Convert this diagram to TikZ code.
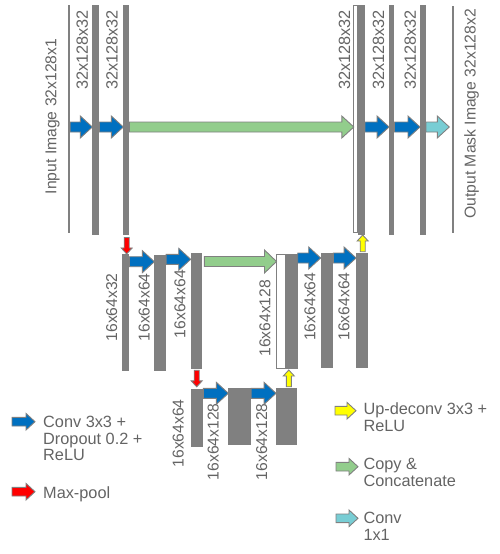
\documentclass[tikz,border=0pt]{standalone}
\usepackage{fontspec}
\setmainfont{Liberation Sans}
\usetikzlibrary{calc}
\definecolor{bargray}{RGB}{128,128,128}
\definecolor{txtgray}{RGB}{100,100,100}
\definecolor{convblue}{RGB}{0,112,192}
\definecolor{copygreen}{RGB}{146,205,140}
\definecolor{poolred}{RGB}{255,0,0}
\definecolor{upyellow}{RGB}{255,255,0}
\definecolor{onecyan}{RGB}{120,205,212}
\tikzset{
  bar/.style={rectangle, fill=bargray, draw=none, inner sep=0pt, outer sep=0pt},
  catbox/.style={rectangle, fill=white, draw=bargray, line width=1pt, inner sep=0pt, outer sep=0pt},
  thinline/.style={rectangle, fill=bargray, draw=none, inner sep=0pt, outer sep=0pt, minimum width=1.8pt},
  dimlbl/.style={rotate=90, inner sep=0pt, text=txtgray, font=\fontsize{15.7}{16}\selectfont},
  toplbl/.style={dimlbl, font=\fontsize{16.3}{17}\selectfont},
  legtxt/.style={anchor=base west, align=left, inner sep=0pt, text=txtgray, font=\fontsize{16.3}{16.6}\selectfont},
  blockarrow/.style={draw=bargray, line width=0.9pt, line join=miter},
}
% horizontal block arrow: fill, start, end, body half, head half, head length
\newcommand\hblock[6]{%
  \path[blockarrow, fill=#1] let \p1=#2, \p2=#3 in
    (\x1,\y1+#4) -- (\x2-#6,\y1+#4) -- (\x2-#6,\y1+#5) -- (\x2,\y1)
    -- (\x2-#6,\y1-#5) -- (\x2-#6,\y1-#4) -- (\x1,\y1-#4) -- cycle;}
% downward block arrow
\newcommand\dblock[6]{%
  \path[blockarrow, fill=#1] let \p1=#2, \p2=#3 in
    (\x1-#4,\y1) -- (\x1-#4,\y2+#6) -- (\x1-#5,\y2+#6) -- (\x1,\y2)
    -- (\x1+#5,\y2+#6) -- (\x1+#4,\y2+#6) -- (\x1+#4,\y1) -- cycle;}
% upward block arrow
\newcommand\ublock[6]{%
  \path[blockarrow, fill=#1] let \p1=#2, \p2=#3 in
    (\x1-#4,\y1) -- (\x1-#4,\y2-#6) -- (\x1-#5,\y2-#6) -- (\x1,\y2)
    -- (\x1+#5,\y2-#6) -- (\x1+#4,\y2-#6) -- (\x1+#4,\y1) -- cycle;}
\begin{document}
\begin{tikzpicture}[x=1pt, y=-1pt]
\useasboundingbox (0,0) rectangle (499,554);

% ---------- top level ----------
\node[thinline, minimum height=228pt] (inL) at (69.2,119) {};
\node[bar, minimum width=7pt, minimum height=229.5pt] (b1) at (95.8,120.2) {};
\node[bar, minimum width=6pt, minimum height=229.5pt] (b2) at (126.3,120.2) {};
\node[catbox, minimum width=4pt, minimum height=227pt] (t3w) at (355.8,119) {};
\node[bar, minimum width=6.7pt, minimum height=230pt] (t3g) at (361.65,120) {};
\node[bar, minimum width=5.3pt, minimum height=229.5pt] (b4) at (391.7,120.2) {};
\node[bar, minimum width=6pt, minimum height=229.5pt] (b5) at (423,120.2) {};
\node[thinline, minimum height=227.3pt] (outL) at (452.7,119.7) {};

\node[dimlbl] (linp) at (52.5,116.5) {Input Image 32x128x1};
\node[toplbl] (l1) at (82.2,50) {32x128x32};
\node[toplbl] (l2) at (111.9,50) {32x128x32};
\node[toplbl] (l3) at (344.6,50) {32x128x32};
\node[toplbl] (l4) at (378.4,50) {32x128x32};
\node[toplbl] (l5) at (410.2,50) {32x128x32};
\node[dimlbl] (lout) at (471.5,113.8) {Output Mask Image 32x128x2};

\coordinate (ytop) at (0,127);
\hblock{convblue}{(inL.east |- ytop)}{(b1.west |- ytop)}{5pt}{11pt}{12pt}
\hblock{convblue}{(b1.east |- ytop)}{(b2.west |- ytop)}{5pt}{11pt}{12pt}
\hblock{copygreen}{(b2.east |- ytop)}{(t3w.west |- ytop)}{5pt}{11pt}{12pt}
\hblock{convblue}{(t3g.east |- ytop)}{(b4.west |- ytop)}{5pt}{11pt}{12pt}
\hblock{convblue}{(b4.east |- ytop)}{(b5.west |- ytop)}{5pt}{11pt}{12pt}
\hblock{onecyan}{(b5.east |- ytop)}{($(outL.west |- ytop)+(-2.5,0)$)}{5pt}{11pt}{12pt}

% ---------- middle level ----------
\node[bar, minimum width=7.6pt, minimum height=116.7pt] (mA) at (125.5,312.3) {};
\node[bar, minimum width=11.7pt, minimum height=115.7pt] (mB) at (160.2,312.8) {};
\node[bar, minimum width=11.6pt, minimum height=115.7pt] (mC) at (196.5,311.2) {};
\node[catbox, minimum width=9pt, minimum height=113.7pt] (mW) at (281,311.65) {};
\node[bar, minimum width=11.7pt, minimum height=114.7pt] (mG) at (291.85,311.65) {};
\node[bar, minimum width=12.6pt, minimum height=115pt] (mE) at (327,310.8) {};
\node[bar, minimum width=12.3pt, minimum height=115pt] (mF) at (362.2,310.8) {};

\node[dimlbl] (lmA) at (111.7,307.3) {16x64x32};
\node[dimlbl] (lmB) at (144.3,307.3) {16x64x64};
\node[dimlbl] (lmC) at (180,304) {16x64x64};
\node[dimlbl] (lmW) at (265,318.3) {16x64x128};
\node[dimlbl] (lmE) at (310,306.7) {16x64x64};
\node[dimlbl] (lmF) at (344,306.5) {16x64x64};

\coordinate (ymA) at (0,261.7);
\coordinate (ymB) at (0,259.3);
\coordinate (ymG) at (0,261.5);
\coordinate (ymR) at (0,258);
\hblock{convblue}{(mA.east |- ymA)}{(mB.west |- ymA)}{5pt}{11pt}{12pt}
\hblock{convblue}{(mB.east |- ymB)}{(mC.west |- ymB)}{5pt}{11pt}{12pt}
\hblock{copygreen}{($(mC.east |- ymG)+(2,0)$)}{(mW.west |- ymG)}{5pt}{11.5pt}{12pt}
\hblock{convblue}{(mG.east |- ymR)}{(mE.west |- ymR)}{5pt}{11pt}{12pt}
\hblock{convblue}{(mE.east |- ymR)}{(mF.west |- ymR)}{5pt}{11pt}{12pt}

% ---------- bottom level ----------
\node[bar, minimum width=12.6pt, minimum height=57.4pt] (bD) at (197,418) {};
\node[bar, minimum width=22.7pt, minimum height=56.7pt] (bE) at (239.7,416.7) {};
\node[bar, minimum width=21.3pt, minimum height=56.7pt] (bF) at (286.7,416.7) {};

\node[dimlbl] (lbD) at (178.3,433.3) {16x64x64};
\node[dimlbl] (lbE) at (213.3,441.7) {16x64x128};
\node[dimlbl] (lbF) at (261.7,441.7) {16x64x128};

\coordinate (ybot) at (0,393.3);
\hblock{convblue}{(bD.east |- ybot)}{(bE.west |- ybot)}{5pt}{11pt}{12pt}
\hblock{convblue}{(bE.east |- ybot)}{(bF.west |- ybot)}{5pt}{11pt}{12pt}

% ---------- vertical arrows ----------
\dblock{poolred}{($(b2.south)+(0.4,2.5)$)}{(mA.north)}{2.5pt}{5.5pt}{6pt}
\dblock{poolred}{($(mC.south)+(0.2,1.2)$)}{($(bD.north)+(0,-2.5)$)}{2.5pt}{5.5pt}{6pt}
\ublock{upyellow}{($(bF.north)+(2.1,-1.6)$)}{($(mG.south)+(0,1)$)}{2.5pt}{5.5pt}{6pt}
\ublock{upyellow}{($(mF.north)+(0.5,-1.6)$)}{(t3g.south)}{2.5pt}{5.5pt}{6pt}

% ---------- legend ----------
\coordinate (g1a) at (12,421.7);  \coordinate (g1b) at (35,421.7);
\coordinate (g2a) at (12,491.7);  \coordinate (g2b) at (35,491.7);
\coordinate (g3a) at (335,410.7); \coordinate (g3b) at (356,410.7);
\coordinate (g4a) at (336,466.7); \coordinate (g4b) at (358,466.7);
\coordinate (g5a) at (336,518.3); \coordinate (g5b) at (358,518.3);
\hblock{convblue}{(g1a)}{(g1b)}{4.3pt}{8.3pt}{9pt}
\hblock{poolred}{(g2a)}{(g2b)}{4.3pt}{8.3pt}{9pt}
\hblock{upyellow}{(g3a)}{(g3b)}{4.3pt}{8.3pt}{9pt}
\hblock{copygreen}{(g4a)}{(g4b)}{4.3pt}{8.3pt}{9pt}
\hblock{onecyan}{(g5a)}{(g5b)}{4.3pt}{8.3pt}{9pt}

% multi-line nodes: base anchor is the baseline of the last line
\node[legtxt] (t1) at (43,460.7) {Conv 3x3 +\\Dropout 0.2 +\\ReLU};
\node[legtxt] (t2) at (43,498.3) {Max-pool};
\node[legtxt] (t3) at (363.3,431) {Up-deconv 3x3 +\\ReLU};
\node[legtxt] (t4) at (363.3,486) {Copy \&\\Concatenate};
\node[legtxt] (t5) at (363.3,540) {Conv\\1x1};
\end{tikzpicture}
\end{document}
